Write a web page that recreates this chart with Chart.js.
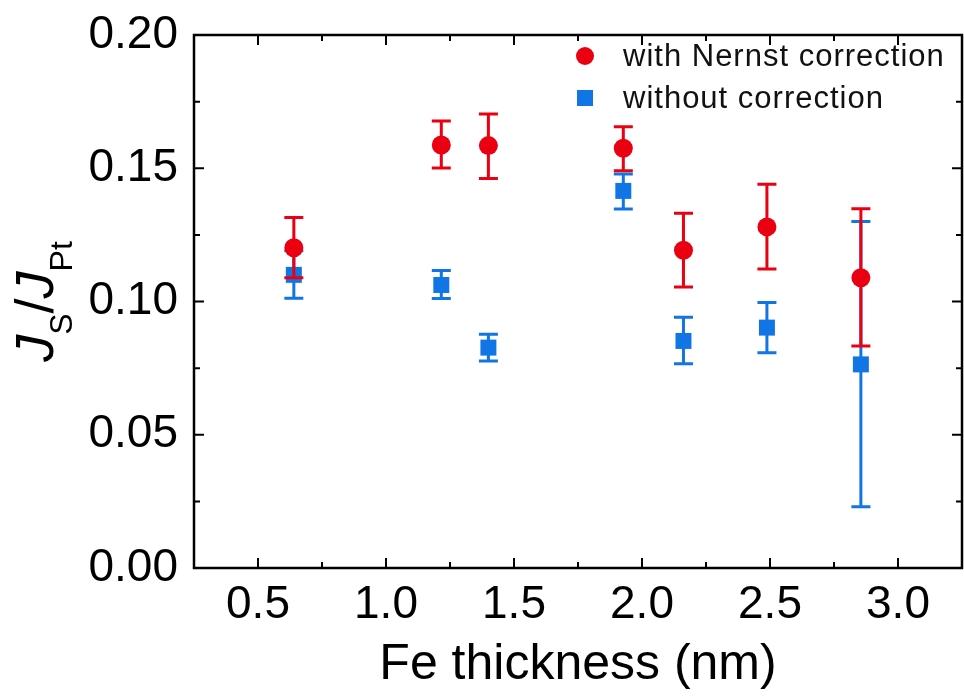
<!DOCTYPE html>
<html>
<head>
<meta charset="utf-8">
<script src="https://cdn.jsdelivr.net/npm/chart.js@4.4.1/dist/chart.umd.min.js"></script>
<style>
  html, body { margin: 0; padding: 0; background: #fff; }
</style>
</head>
<body>
<canvas id="c" width="964" height="697"></canvas>
<script>
// Fe thickness (nm)
const thickness = [0.64, 1.216, 1.40, 1.927, 2.162, 2.488, 2.855];

// with Nernst correction
const nernstVal  = [0.1202, 0.1587, 0.1585, 0.1575, 0.1192, 0.1280, 0.1089];
const nernstHigh = [0.1315, 0.1677, 0.1704, 0.1656, 0.1331, 0.1440, 0.1348];
const nernstLow  = [0.1089, 0.1501, 0.1462, 0.1491, 0.1054, 0.1122, 0.0833];

// without correction
const plainVal  = [0.1100, 0.1062, 0.0827, 0.1415, 0.0852, 0.0902, 0.0764];
const plainHigh = [0.1190, 0.1116, 0.0877, 0.1478, 0.0941, 0.0996, 0.1300];
const plainLow  = [0.1012, 0.1011, 0.0777, 0.1347, 0.0766, 0.0808, 0.0230];

const xTicks = [0.5, 1.0, 1.5, 2.0, 2.5, 3.0];
const yTicks = [0.00, 0.05, 0.10, 0.15, 0.20];
const xMinor = [0.25, 0.75, 1.25, 1.75, 2.25, 2.75, 3.25];
const yMinor = [0.025, 0.075, 0.125, 0.175];

const RED = "#ea0010";
const BLUE = "#1175e5";
const FONT = "'Liberation Sans', Arial, sans-serif";
const CAP = 9.5;

const toPoints = (ys) => thickness.map((x, i) => ({ x, y: ys[i] }));

// keep the plot box fixed, no extra room for overhanging labels
const noPad = (s) => {
  s.paddingLeft = s.paddingRight = s.paddingTop = s.paddingBottom = 0;
};

// error bars under each dataset's own markers
const errorBars = {
  id: "errorBars",
  beforeDatasetDraw(chart, args) {
    const ds = chart.data.datasets[args.index];
    if (!ds.errHigh) return;
    const { ctx, scales: { x, y } } = chart;
    ctx.save();
    ctx.strokeStyle = ds.backgroundColor;
    ctx.lineWidth = 3;
    ds.data.forEach((p, i) => {
      const px = x.getPixelForValue(p.x);
      const top = y.getPixelForValue(ds.errHigh[i]);
      const bot = y.getPixelForValue(ds.errLow[i]);
      ctx.beginPath();
      ctx.moveTo(px, top); ctx.lineTo(px, bot);
      ctx.moveTo(px - CAP, top); ctx.lineTo(px + CAP, top);
      ctx.moveTo(px - CAP, bot); ctx.lineTo(px + CAP, bot);
      ctx.stroke();
    });
    ctx.restore();
  }
};

// box frame with inward ticks on all four sides, legend, y title
const decorations = {
  id: "decorations",
  afterDraw(chart) {
    const { ctx, chartArea: a, scales: { x, y } } = chart;
    ctx.save();
    ctx.strokeStyle = "#000";
    ctx.lineWidth = 2;
    const vTick = (v, len) => {
      const px = x.getPixelForValue(v);
      ctx.moveTo(px, a.bottom); ctx.lineTo(px, a.bottom - len);
      ctx.moveTo(px, a.top); ctx.lineTo(px, a.top + len);
    };
    const hTick = (v, len) => {
      const py = y.getPixelForValue(v);
      ctx.moveTo(a.left, py); ctx.lineTo(a.left + len, py);
      ctx.moveTo(a.right, py); ctx.lineTo(a.right - len, py);
    };
    ctx.beginPath();
    xTicks.forEach((v) => vTick(v, 10));
    xMinor.forEach((v) => vTick(v, 6));
    yTicks.forEach((v) => hTick(v, 10));
    yMinor.forEach((v) => hTick(v, 6));
    ctx.stroke();
    ctx.lineWidth = 2.5;
    ctx.strokeRect(a.left, a.top, a.right - a.left, a.bottom - a.top);

    // legend
    const items = chart.data.datasets;
    ctx.font = "31px " + FONT;
    ctx.letterSpacing = "1px";
    ctx.textBaseline = "alphabetic";
    const rows = [66, 108];
    items.forEach((ds, i) => {
      const cy = rows[i] - 10;
      ctx.fillStyle = ds.backgroundColor;
      ctx.beginPath();
      if (ds.pointStyle === "circle") ctx.arc(585, cy, 9, 0, Math.PI * 2);
      else ctx.rect(577, cy - 8, 16, 16);
      ctx.fill();
      ctx.fillStyle = "#111";
      ctx.fillText(ds.label, 623, rows[i]);
    });
    ctx.letterSpacing = "0px";

    // y axis title J_S / J_Pt
    const parts = [
      { t: "J", f: "italic 54px " + FONT, dy: 0 },
      { t: "S", f: "32px " + FONT, dy: 19 },
      { t: "/", f: "54px " + FONT, dy: 0 },
      { t: "J", f: "italic 54px " + FONT, dy: 0 },
      { t: "Pt", f: "32px " + FONT, dy: 19 }
    ];
    let total = 0;
    parts.forEach((p) => { ctx.font = p.f; p.w = ctx.measureText(p.t).width; total += p.w; });
    ctx.translate(53, (a.top + a.bottom) / 2);
    ctx.rotate(-Math.PI / 2);
    ctx.fillStyle = "#000";
    let cx = -total / 2;
    parts.forEach((p) => { ctx.font = p.f; ctx.fillText(p.t, cx, p.dy); cx += p.w; });
    ctx.restore();
  }
};

new Chart(document.getElementById("c"), {
  type: "scatter",
  data: {
    datasets: [
      {
        label: "with Nernst correction",
        data: toPoints(nernstVal),
        errHigh: nernstHigh,
        errLow: nernstLow,
        backgroundColor: RED,
        borderWidth: 0,
        pointStyle: "circle",
        pointRadius: 9.5,
        order: 0
      },
      {
        label: "without correction",
        data: toPoints(plainVal),
        errHigh: plainHigh,
        errLow: plainLow,
        backgroundColor: BLUE,
        borderWidth: 0,
        pointStyle: "rect",
        pointRadius: 11.3,
        order: 1
      }
    ]
  },
  options: {
    responsive: false,
    animation: false,
    events: [],
    layout: { autoPadding: false, padding: { top: 35, right: 2, left: 0, bottom: 0 } },
    plugins: { legend: { display: false }, tooltip: { enabled: false } },
    scales: {
      x: {
        type: "linear",
        min: 0.25,
        max: 3.25,
        afterFit: (s) => { s.height = 129; noPad(s); },
        afterBuildTicks: (s) => { s.ticks = xTicks.map((v) => ({ value: v })); },
        grid: { display: false, drawTicks: false },
        border: { display: false },
        ticks: {
          padding: 10,
          color: "#000",
          font: { family: FONT, size: 46 },
          callback: (v) => Number(v).toFixed(1)
        },
        title: {
          display: true,
          text: "Fe thickness (nm)",
          color: "#000",
          font: { family: FONT, size: 50 },
          padding: { top: 0, bottom: 2 }
        }
      },
      y: {
        type: "linear",
        min: 0,
        max: 0.2,
        afterFit: (s) => { s.width = 194; noPad(s); },
        afterBuildTicks: (s) => { s.ticks = yTicks.map((v) => ({ value: v })); },
        grid: { display: false, drawTicks: false },
        border: { display: false },
        ticks: {
          padding: 16,
          color: "#000",
          font: { family: FONT, size: 46 },
          callback: (v) => Number(v).toFixed(2)
        }
      }
    }
  },
  plugins: [errorBars, decorations]
});
</script>
</body>
</html>
